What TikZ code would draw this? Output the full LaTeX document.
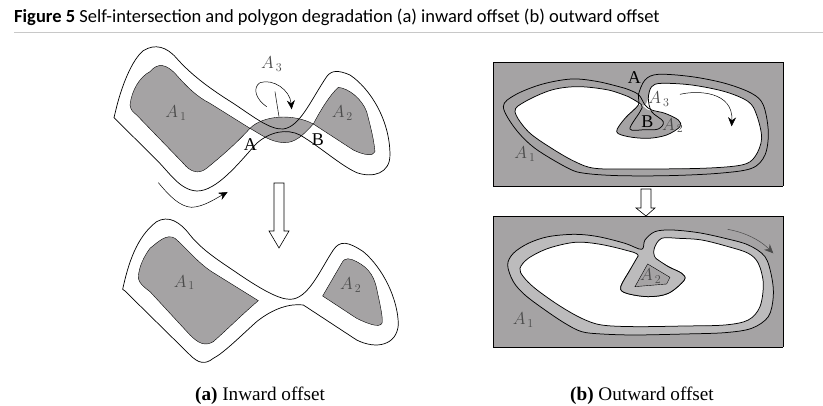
\documentclass[tikz,border=0pt]{standalone}
\usepackage{fontspec}
\setmainfont{Liberation Serif}
\newfontfamily\headfont{Carlito}
\usetikzlibrary{arrows.meta}
\definecolor{bgray}{RGB}{165,163,164}
\definecolor{rgray}{RGB}{188,187,188}
\definecolor{lgray}{RGB}{200,200,200}
\definecolor{tgray}{RGB}{75,75,75}
\tikzset{
  cline/.style={black,line width=0.7pt},
  rline/.style={black,line width=0.75pt},
  gfill/.style={fill=bgray,draw=black,line width=0.4pt},
  farr/.style={black,line width=0.5pt,-{Stealth[length=9pt,width=8pt]}},
  bigarr/.style={draw=black,fill=white,line width=0.6pt},
  mlab/.style={font=\fontsize{17}{17}\selectfont,text=tgray,inner sep=0pt},
  plab/.style={font=\fontsize{18}{18}\selectfont,inner sep=0pt},
  caplab/.style={font=\fontsize{19.2}{20}\selectfont,inner sep=0pt},
  smo/.style={smooth cycle,tension=0.55},
  zta/.style={shift={(100,40)},x=0.3333pt,y=-0.3333pt},
  zba/.style={shift={(100,180)},x=0.3333pt,y=-0.3333pt},
  ztb/.style={shift={(485,55)},x=0.3333pt,y=-0.3333pt},
  zbb/.style={shift={(485,190)},x=0.3333pt,y=-0.3333pt}
}
\begin{document}
\begin{tikzpicture}[x=1pt,y=-1pt]
  \useasboundingbox (0,0) rectangle (823,406);
  \node[anchor=base west,inner sep=0pt] (title) at (14,23) {\headfont\fontsize{18.5}{19}\selectfont\textbf{Figure 5} Self-intersection and polygon degradation (a) inward offset (b) outward offset};
  \draw[lgray,line width=0.7pt] (14,32) -- (823,32);

  % (a) upper
  \begin{scope}[zta]
    \draw[gfill] (90,195) .. controls (95,150) and (120,110) .. (150,95)
      .. controls (175,65) and (200,75) .. (225,100)
      .. controls (260,140) and (290,170) .. (330,190) -- (450,265)
      .. controls (400,320) and (350,360) .. (320,385)
      .. controls (295,405) and (270,395) .. (250,370)
      -- (110,225) .. controls (98,215) and (92,210) .. cycle;
    \draw[gfill] (450,265) .. controls (490,225) and (580,220) .. (640,252)
      .. controls (610,285) and (585,310) .. (550,308)
      .. controls (510,305) and (485,285) .. cycle;
    \draw[gfill] (640,252) .. controls (665,205) and (690,165) .. (715,142)
      .. controls (745,145) and (785,175) .. (800,215)
      .. controls (812,260) and (822,300) .. (825,335)
      .. controls (820,350) and (790,345) .. (760,330) -- cycle;
    \draw[cline] (42,233) -- (50,200) .. controls (65,140) and (95,60) .. (130,32)
      .. controls (165,10) and (200,20) .. (230,55)
      .. controls (270,100) and (320,140) .. (400,190)
      .. controls (460,230) and (510,270) .. (550,267)
      .. controls (600,260) and (630,185) .. (680,110)
      .. controls (695,90) and (715,90) .. (750,105)
      .. controls (810,145) and (870,240) .. (870,345)
      .. controls (870,400) and (820,415) .. (770,398)
      .. controls (720,375) and (660,320) .. (600,285)
      .. controls (560,265) and (510,275) .. (470,310)
      .. controls (420,365) and (350,455) .. (290,453)
      .. controls (240,450) and (210,400) .. (170,360) -- cycle;
    \draw[line width=0.5pt] (525,155) -- (537,230);
    \draw[farr] (500,200) .. controls (470,180) and (455,145) .. (480,128)
      .. controls (520,115) and (570,150) .. (575,208);
    \draw[farr] (175,428) .. controls (210,470) and (240,500) .. (275,502)
      .. controls (310,500) and (340,480) .. (383,456);
    \node[mlab] (a3top) at (515,72) {$A_{\,3}$};
    \node[mlab] (a1top) at (228,220) {$A_{\,1}$};
    \node[mlab] (a2top) at (727,220) {$A_{\,2}$};
    \node[plab] (ptatop) at (451,315) {A};
    \node[plab] (ptbtop) at (654,300) {B};
  \end{scope}

  % down arrow (a)
  \draw[bigarr] (274,183) -- (284,183) -- (284,231) -- (289,231) -- (279,248) -- (269,231) -- (274,231) -- cycle;

  % (a) lower
  \begin{scope}[zba]
    \draw[gfill] (115,295) .. controls (115,260) and (135,225) .. (150,205)
      .. controls (175,185) and (200,160) .. (225,175)
      .. controls (260,205) and (290,245) .. (335,275) -- (475,362)
      .. controls (430,400) and (380,450) .. (340,485)
      .. controls (315,500) and (295,490) .. (270,465)
      -- (150,335) .. controls (130,320) and (118,310) .. cycle;
    \draw[gfill] (668,348) -- (725,250) .. controls (735,230) and (750,235) .. (770,245)
      .. controls (810,265) and (825,295) .. (832,335)
      .. controls (842,380) and (850,420) .. (846,430)
      .. controls (838,445) and (800,430) .. (770,415) -- cycle;
    \draw[cline] (68,328) .. controls (85,250) and (110,170) .. (170,125)
      .. controls (205,105) and (240,125) .. (270,165)
      .. controls (310,215) and (370,250) .. (420,285)
      .. controls (480,325) and (535,358) .. (570,358)
      .. controls (625,358) and (660,270) .. (700,210)
      .. controls (720,180) and (745,185) .. (790,215)
      .. controls (850,265) and (895,360) .. (895,435)
      .. controls (890,495) and (830,510) .. (770,480)
      -- (610,375) .. controls (570,370) and (520,385) .. (470,425)
      .. controls (420,470) and (370,520) .. (340,535)
      .. controls (315,555) and (295,550) .. (270,525) -- (75,333) -- cycle;
    \node[mlab] (a1low) at (253,308) {$A_{\,1}$};
    \node[mlab] (a2low) at (752,315) {$A_{\,2}$};
  \end{scope}

  % (b) upper
  \begin{scope}[ztb]
    \fill[bgray] (25,22) rectangle (895,393);
    \draw[black,line width=0.5pt] (25,22) -- (895,22) (25,22) -- (25,393) (895,22) -- (895,393);
    \fill[white] plot[smo] coordinates {(90,170) (120,140) (200,105) (280,95) (370,105) (430,125) (475,152) (490,130) (500,95) (530,85) (620,90) (720,110) (790,140) (815,180) (830,250) (810,305) (770,330) (650,340) (450,342) (330,340) (270,320) (200,280) (130,230)};
    \fill[bgray] plot[smo] coordinates {(470,150) (490,165) (540,175) (580,195) (585,215) (545,240) (490,250) (430,245) (395,230) (420,190) (455,155)};
    \draw[rline] plot[smooth,tension=0.55] coordinates {(420,100) (460,118) (480,150) (500,165) (540,175) (580,195) (585,215) (545,240) (490,250) (430,245) (395,230) (420,190) (460,150) (460,120) (480,75) (520,58) (620,65) (720,85) (800,115) (835,150) (850,230) (840,300) (800,340) (700,355) (550,362) (400,362) (300,355) (250,340) (150,280) (90,220) (55,155) (90,120) (170,88) (260,72) (340,80) (420,100)};
    \draw[rline] plot[smooth,tension=0.55] coordinates {(430,125) (470,150) (465,170) (435,222) (480,224) (520,222) (535,200) (500,170) (490,130) (500,95) (530,85) (620,90) (720,110) (790,140) (815,180) (830,250) (810,305) (770,330) (650,340) (450,342) (330,340) (270,320) (200,280) (130,230) (90,170) (120,140) (200,105) (280,95) (370,105) (430,125)};
    \draw[farr] (585,118) .. controls (640,105) and (745,110) .. (740,214);
    \draw[black,line width=0.8pt] (25,393) -- (895,393);
    \node[plab] (ptabtop) at (448,68) {A};
    \node[plab] (ptbbtop) at (487,200) {B};
    \node[mlab] (a3b) at (522,133) {$A_{\,3}$};
    \node[mlab] (a2b) at (563,212) {$A_{\,2}$};
    \node[mlab] (a1b) at (120,298) {$A_{\,1}$};
  \end{scope}

  % down arrow (b)
  \draw[bigarr] (641,189) -- (651,189) -- (651,208) -- (655,208) -- (646,216) -- (636,208) -- (641,208) -- cycle;

  % (b) lower
  \begin{scope}[zbb]
    \fill[bgray] (25,78) rectangle (895,472);
    \draw[black,line width=0.5pt] (25,472) -- (25,78) -- (895,78) -- (895,472);
    \draw[black,line width=0.8pt] (25,472) -- (895,472);
    \draw[rline,fill=rgray] plot[smo] coordinates {(68,225) (85,190) (130,160) (190,140) (270,133) (340,140) (420,160) (470,178) (480,150) (510,125) (560,120) (640,128) (720,145) (790,165) (840,200) (860,260) (865,320) (850,380) (800,415) (720,428) (600,432) (450,435) (350,432) (290,425) (240,400) (180,360) (120,315) (85,275)};
    \draw[rline,fill=white] plot[smo] coordinates {(105,235) (130,205) (190,175) (270,157) (340,162) (420,180) (460,197) (435,240) (407,292) (425,310) (490,320) (550,310) (598,270) (590,250) (550,230) (512,205) (508,175) (530,145) (580,145) (650,150) (730,170) (790,190) (820,220) (835,280) (825,350) (790,390) (720,405) (600,408) (450,410) (350,405) (290,385) (220,345) (150,295) (115,260)};
    \fill[rgray] plot[smo] coordinates {(460,197) (435,240) (407,292) (425,310) (490,320) (550,310) (598,270) (590,250) (550,230) (512,205) (490,195)};
    \draw[rline] plot[smooth,tension=0.55] coordinates {(460,197) (435,240) (407,292) (425,310) (490,320) (550,310) (598,270) (590,250) (550,230) (512,205)};
    \draw[gfill] (488,222) -- (555,262) -- (545,282) -- (450,290) -- cycle;
    \draw[farr,draw=tgray] (728,118) .. controls (770,125) and (820,145) .. (865,190);
    \node[mlab] (a2blow) at (497,258) {$A_{\,2}$};
    \node[mlab] (a1blow) at (115,390) {$A_{\,1}$};
  \end{scope}

  \node[caplab] (capa) at (260,396) {\textbf{(a)} Inward offset};
  \node[caplab] (capb) at (642,396) {\textbf{(b)} Outward offset};
\end{tikzpicture}
\end{document}
